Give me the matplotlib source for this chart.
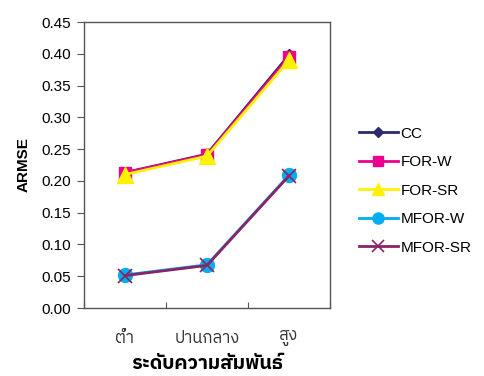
import matplotlib
matplotlib.use("Agg")
import matplotlib.pyplot as plt

plt.rcParams['font.family'] = ['Liberation Sans', 'IBM Plex Sans Thai', 'Noto Sans Thai', 'DejaVu Sans']

levels = ["ต่ำ", "ปานกลาง", "สูง"]
cc = [0.213, 0.242, 0.398]
for_w = [0.213, 0.241, 0.395]
for_sr = [0.210, 0.239, 0.390]
mfor_w = [0.052, 0.068, 0.209]
mfor_sr = [0.051, 0.067, 0.208]

thai = ['IBM Plex Sans Thai', 'Noto Sans Thai', 'DejaVu Sans']

fig = plt.figure(figsize=(4.84, 3.76), dpi=100)
ax = fig.add_axes([84 / 484, 1 - 308 / 376, 246 / 484, 286 / 376])

x = range(len(levels))
ax.plot(x, cc, color="#2b2a6b", lw=2, marker="D", ms=6, label="CC")
ax.plot(x, for_w, color="#ec008c", lw=2, marker="s", ms=9, label="FOR-W")
ax.plot(x, for_sr, color="#fff200", lw=2, marker="^", ms=11, label="FOR-SR")
ax.plot(x, mfor_w, color="#00aeef", lw=2, marker="o", ms=10, label="MFOR-W")
ax.plot(x, mfor_sr, color="#8b2466", lw=2, marker="x", ms=10, mew=1.2, label="MFOR-SR")

ax.set_xlim(-0.5, 2.5)
ax.set_ylim(0, 0.45)
ax.set_yticks([i * 0.05 for i in range(10)])
ax.set_yticklabels([f"{i * 0.05:.2f}" for i in range(10)], fontsize=11)
ax.set_xticks([-0.5, 0.5, 1.5, 2.5])
ax.set_xticklabels([])
ax.set_xticks(list(x), minor=True)
ax.set_xticklabels(levels, minor=True, fontsize=12, family=thai, color="#333333")
ax.tick_params(axis="x", which="minor", length=0, pad=16)
ax.tick_params(axis="x", which="major", direction="in", length=4, color="#555555")
ax.tick_params(axis="y", direction="out", length=5, color="#555555", pad=4)
for s in ax.spines.values():
    s.set_color("#555555")
    s.set_linewidth(1)

ax.set_ylabel("ARMSE", fontsize=11, fontweight="bold", labelpad=8)
ax.set_xlabel("ระดับความสัมพันธ์", fontsize=14, fontweight="bold", family=thai, labelpad=6)

ax.legend(loc="center left", bbox_to_anchor=(1.06, 0.41), frameon=False,
          fontsize=11, handlelength=2.6, labelspacing=0.95, handletextpad=0.15,
          markerscale=0.8)

fig.savefig("out.png", dpi=100)
